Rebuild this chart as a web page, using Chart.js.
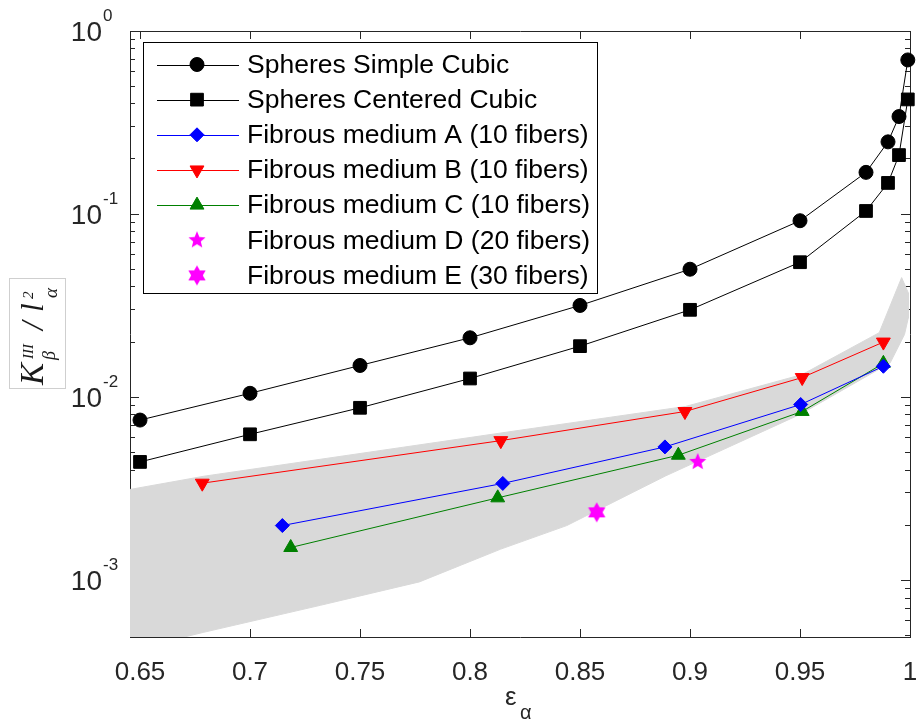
<!DOCTYPE html>
<html>
<head>
<meta charset="utf-8">
<script src="https://cdn.jsdelivr.net/npm/chart.js@4.4.1/dist/chart.umd.min.js"></script>
<style>
html, body { margin: 0; padding: 0; background: #fff; }
</style>
</head>
<body>
<canvas id="chart" width="916" height="720"></canvas>
<script>
// values
const epsSpheres = [0.65, 0.70, 0.75, 0.80, 0.85, 0.90, 0.95, 0.98, 0.99, 0.995, 0.999];
const kSimpleCubic = [7.5e-3, 1.05e-2, 1.49e-2, 2.11e-2, 3.17e-2, 5.0e-2, 9.2e-2, 0.169, 0.248, 0.341, 0.695];
const kCenteredCubic = [4.43e-3, 6.27e-3, 8.75e-3, 1.265e-2, 1.9e-2, 3.0e-2, 5.46e-2, 0.104, 0.148, 0.21, 0.423];

const epsA = [0.7147, 0.8149, 0.8886, 0.9503, 0.9879];
const kA = [1.99e-3, 3.38e-3, 5.35e-3, 9.12e-3, 1.475e-2];
const epsB = [0.6783, 0.8140, 0.8977, 0.9510, 0.9879];
const kB = [3.39e-3, 5.79e-3, 8.35e-3, 1.28e-2, 2.0e-2];
const epsC = [0.7185, 0.8126, 0.8947, 0.9510, 0.9879];
const kC = [1.51e-3, 2.82e-3, 4.82e-3, 8.36e-3, 1.53e-2];
const epsD = [0.9035];
const kD = [4.43e-3];
const epsE = [0.8576];
const kE = [2.35e-3];

// grey envelope, upper edge left->right then lower edge right->left
const bandEps = [0.640, 0.679, 0.8227, 0.898, 0.951, 0.986, 0.9962, 0.9993, 0.9992,
                 0.9975, 0.991, 0.950, 0.889, 0.844, 0.814, 0.777, 0.732, 0.679, 0.640];
const bandK = [3.05e-3, 3.7e-3, 6.6e-3, 8.9e-3, 1.33e-2, 2.25e-2, 4.5e-2, 3.7e-2, 2.7e-2,
               2.2e-2, 1.54e-2, 8.05e-3, 3.72e-3, 1.99e-3, 1.48e-3, 9.8e-4, 7.3e-4, 5.2e-4, 4.0e-4];

const xTickValues = [0.65, 0.70, 0.75, 0.80, 0.85, 0.90, 0.95, 1.0];
const yDecades = [0, -1, -2, -3];

const labels = [
    'Spheres Simple Cubic',
    'Spheres Centered Cubic',
    'Fibrous medium A (10 fibers)',
    'Fibrous medium B (10 fibers)',
    'Fibrous medium C (10 fibers)',
    'Fibrous medium D (20 fibers)',
    'Fibrous medium E (30 fibers)'
];

const X_MIN = 0.64545, X_MAX = 1.0;
const Y_MIN = 4.9e-4, Y_MAX = 1;
const axisColor = '#262626';
const sansFont = '"Liberation Sans", Arial, sans-serif';
const serifFont = '"Liberation Serif", "Times New Roman", serif';

function pts(xs, ys) {
    return xs.map((x, i) => ({x: x, y: ys[i]}));
}

function starCanvas(n, outer, inner, color) {
    const size = Math.ceil(outer * 2) + 2;
    const c = document.createElement('canvas');
    c.width = size; c.height = size;
    const g = c.getContext('2d');
    g.translate(size / 2, size / 2);
    g.beginPath();
    for (let i = 0; i < n * 2; i++) {
        const r = i % 2 ? inner : outer;
        const a = -Math.PI / 2 + i * Math.PI / n;
        g.lineTo(r * Math.cos(a), r * Math.sin(a));
    }
    g.closePath();
    g.fillStyle = color;
    g.fill();
    return c;
}
const star5 = starCanvas(5, 9, 4, '#ff00ff');
const star6 = starCanvas(6, 10, 5.8, '#ff00ff');

// log tick positions (minor + major)
const yAllTicks = [];
[-4, -3, -2, -1].forEach(function(e) {
    for (let m = 1; m < 10; m++) {
        const v = m * Math.pow(10, e);
        if (v >= Y_MIN && v <= Y_MAX) yAllTicks.push(v);
    }
});
yAllTicks.push(1);
const yMajorTicks = yDecades.map(e => Math.pow(10, e));

function setTicks(values) {
    return function(scale) { scale.ticks = values.map(v => ({value: v})); };
}

// pin every axis box to a fixed size so the plot area matches the figure
function fixSize(prop, size) {
    return function(s) {
        s[prop] = size;
        s.paddingLeft = 0; s.paddingRight = 0;
        s.paddingTop = 0; s.paddingBottom = 0;
    };
}

function series(label, xs, ys, color, style, radius, extra) {
    return Object.assign({
        label: label,
        data: pts(xs, ys),
        showLine: true,
        borderColor: color,
        borderWidth: 1,
        pointStyle: style,
        pointRadius: radius,
        pointBackgroundColor: color,
        pointBorderColor: color,
        pointBorderWidth: 1,
        clip: false
    }, extra || {});
}

const datasets = [
    series(labels[0], epsSpheres, kSimpleCubic, '#000000', 'circle', 7),
    series(labels[1], epsSpheres, kCenteredCubic, '#000000', 'rect', 9),
    series(labels[2], epsA, kA, '#0000ff', 'rectRot', 7),
    series(labels[3], epsB, kB, '#ff0000', 'triangle', 8, {pointRotation: 180}),
    series(labels[4], epsC, kC, '#008000', 'triangle', 8),
    series(labels[5], epsD, kD, '#ff00ff', star5, 8, {showLine: false}),
    series(labels[6], epsE, kE, '#ff00ff', star6, 8, {showLine: false}),
    {
        label: '',
        data: pts(bandEps, bandK),
        showLine: true,
        fill: 'shape',
        backgroundColor: '#d9d9d9',
        borderColor: '#d9d9d9',
        borderWidth: 1,
        pointRadius: 0
    }
];

const decorPlugin = {
    id: 'decor',
    afterDraw(chart) {
        const ctx = chart.ctx;
        const ys = chart.scales.y;
        ctx.save();
        ctx.fillStyle = axisColor;

        // y tick labels 10^n
        yDecades.forEach(function(e) {
            const py = ys.getPixelForValue(Math.pow(10, e));
            ctx.font = '28px ' + sansFont;
            ctx.textAlign = 'right';
            ctx.textBaseline = 'alphabetic';
            ctx.fillText('10', 102, py + 10);
            ctx.font = '17px ' + sansFont;
            ctx.textAlign = 'left';
            ctx.fillText(String(e), 103, py - 10);
        });

        // x title
        ctx.textAlign = 'left';
        ctx.font = '26px ' + sansFont;
        ctx.fillText('\u03b5', 505, 705);
        ctx.font = '20px ' + sansFont;
        ctx.fillText('\u03b1', 520, 719);

        // y title in a light box
        ctx.strokeStyle = '#cfcfcf';
        ctx.lineWidth = 1;
        ctx.strokeRect(9.5, 278.5, 56, 110);
        ctx.fillStyle = '#1a1a1a';
        ctx.translate(43, 385);
        ctx.rotate(-Math.PI / 2);
        ctx.font = 'italic 33px ' + serifFont;
        ctx.fillText('K', 0, 0);
        ctx.font = 'italic 15px ' + serifFont;
        ctx.fillText('III', 26, -10);
        ctx.font = 'italic 18px ' + serifFont;
        ctx.fillText('\u03b2', 25, 12);
        ctx.font = 'italic 31px ' + serifFont;
        ctx.fillText('/', 55, 0);
        ctx.fillText('l', 73, 0);
        ctx.font = 'italic 15px ' + serifFont;
        ctx.fillText('2', 86, -10);
        ctx.font = 'italic 19px ' + serifFont;
        ctx.fillText('\u03b1', 87, 14);
        ctx.restore();

        // legend
        const x0 = 143.5, y0 = 42.5, w = 454, h = 251;
        ctx.save();
        ctx.fillStyle = '#ffffff';
        ctx.fillRect(x0, y0, w, h);
        ctx.strokeStyle = '#000000';
        ctx.lineWidth = 1;
        ctx.strokeRect(x0, y0, w, h);
        ctx.font = '26.5px ' + sansFont;
        ctx.textBaseline = 'middle';
        ctx.textAlign = 'left';
        chart.data.datasets.forEach(function(ds, i) {
            if (!ds.label) return;
            const cy = 64.5 + i * 35.15;
            if (ds.showLine) {
                ctx.strokeStyle = ds.borderColor;
                ctx.lineWidth = 1;
                ctx.beginPath();
                ctx.moveTo(157, Math.round(cy) + 0.5);
                ctx.lineTo(239, Math.round(cy) + 0.5);
                ctx.stroke();
            }
            ctx.fillStyle = ds.pointBackgroundColor;
            ctx.strokeStyle = ds.pointBorderColor;
            ctx.lineWidth = 1;
            Chart.helpers.drawPoint(ctx, {
                pointStyle: ds.pointStyle,
                rotation: ds.pointRotation || 0,
                radius: ds.pointRadius,
                borderWidth: 1
            }, 197, cy);
            ctx.fillStyle = '#000000';
            ctx.fillText(ds.label, 247, cy + 1);
        });
        ctx.restore();
    }
};

const edgeGrid = len => ({drawOnChartArea: false, tickLength: len, color: axisColor, lineWidth: 1});

new Chart(document.getElementById('chart'), {
    type: 'scatter',
    data: {datasets: datasets},
    options: {
        responsive: false,
        animation: false,
        events: [],
        layout: {padding: 0, autoPadding: false},
        plugins: {legend: {display: false}, tooltip: {enabled: false}},
        scales: {
            x: {
                type: 'linear', position: 'bottom', min: X_MIN, max: X_MAX,
                afterBuildTicks: setTicks(xTickValues),
                afterFit: fixSize('height', 83),
                grid: edgeGrid(-8),
                border: {color: axisColor},
                ticks: {
                    font: {family: sansFont, size: 26}, color: axisColor, padding: 28,
                    maxRotation: 0, autoSkip: false,
                    callback: v => String(+v.toFixed(2))
                }
            },
            x2: {
                type: 'linear', position: 'top', min: X_MIN, max: X_MAX,
                afterBuildTicks: setTicks(xTickValues),
                afterFit: fixSize('height', 31),
                grid: edgeGrid(-8),
                border: {color: axisColor},
                ticks: {display: false}
            },
            y: {
                type: 'logarithmic', position: 'left', min: Y_MIN, max: Y_MAX,
                afterBuildTicks: setTicks(yAllTicks),
                afterFit: fixSize('width', 130),
                grid: edgeGrid(-5),
                border: {color: axisColor},
                ticks: {display: false}
            },
            y2: {
                type: 'logarithmic', position: 'right', min: Y_MIN, max: Y_MAX,
                afterBuildTicks: setTicks(yAllTicks),
                afterFit: fixSize('width', 6),
                grid: edgeGrid(-5),
                border: {color: axisColor},
                ticks: {display: false}
            },
            yMajL: {
                type: 'logarithmic', position: {x: X_MIN}, min: Y_MIN, max: Y_MAX,
                afterBuildTicks: setTicks(yMajorTicks),
                afterFit: fixSize('width', 0),
                grid: edgeGrid(-9),
                border: {display: false},
                ticks: {display: false}
            },
            yMajR: {
                type: 'logarithmic', position: {x: X_MAX}, min: Y_MIN, max: Y_MAX,
                afterBuildTicks: setTicks(yMajorTicks),
                afterFit: fixSize('width', 0),
                grid: edgeGrid(9),
                border: {display: false},
                ticks: {display: false}
            }
        }
    },
    plugins: [decorPlugin]
});
</script>
</body>
</html>
